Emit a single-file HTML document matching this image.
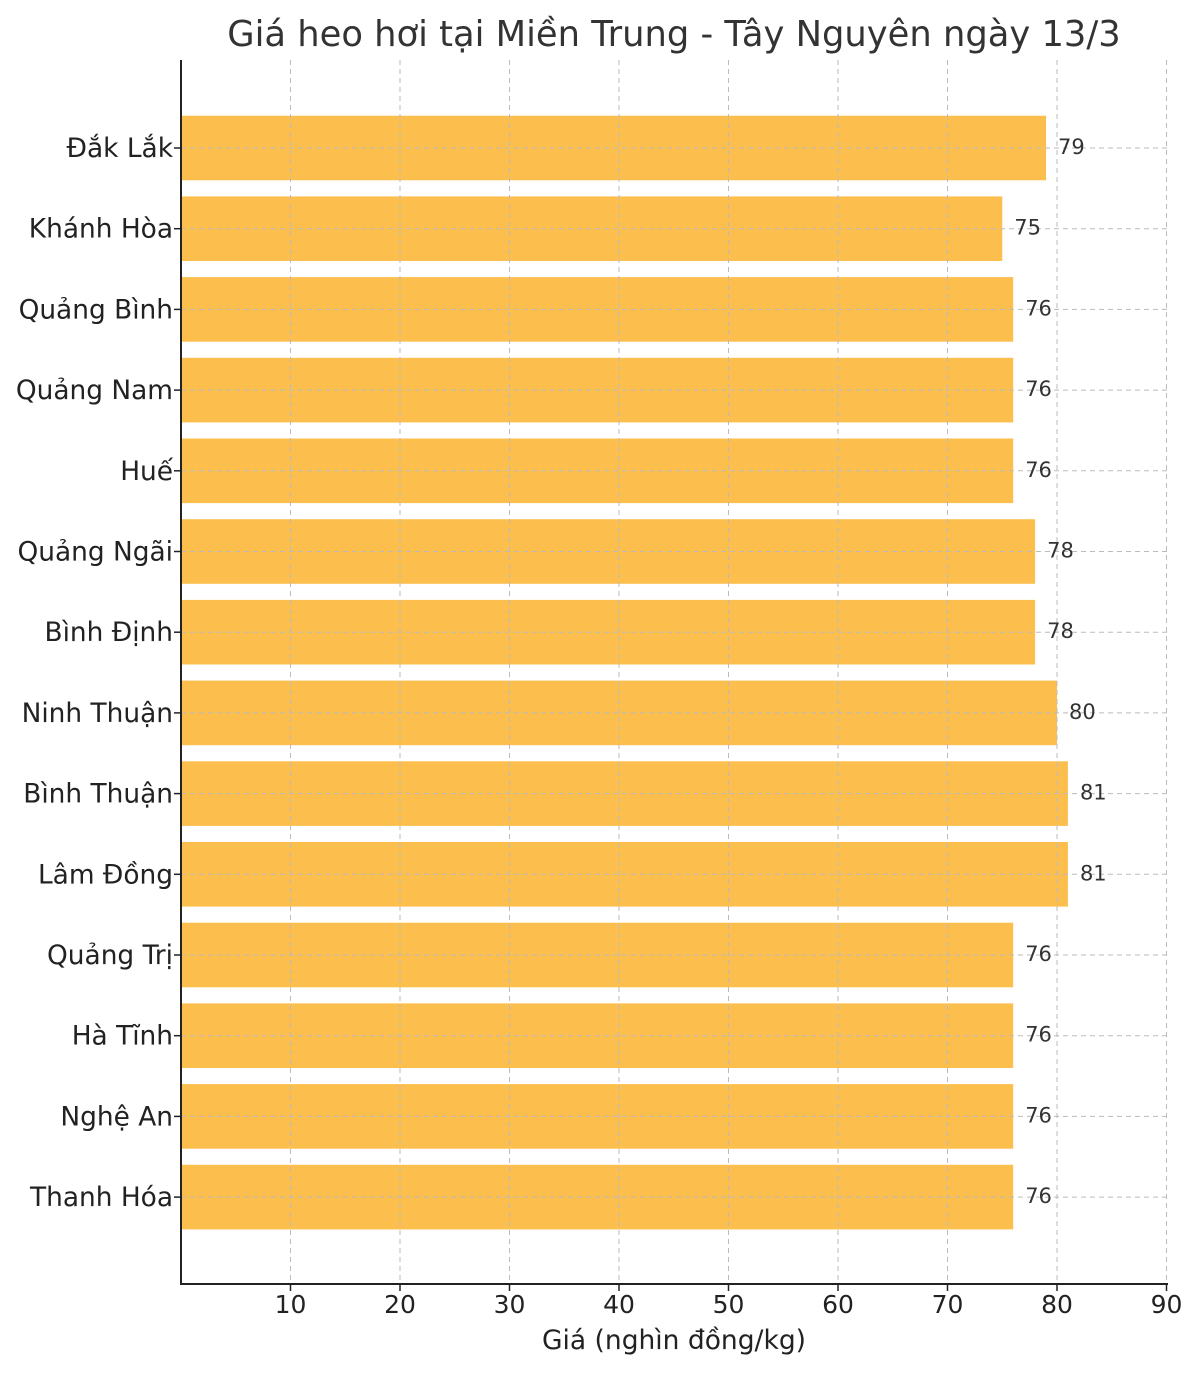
<!DOCTYPE html>
<html><head><meta charset="utf-8"><style>body{margin:0;background:#fff}</style></head><body>
<svg width="1200" height="1371" xmlns="http://www.w3.org/2000/svg" font-family="DejaVu Sans, Liberation Sans, sans-serif">
<rect width="1200" height="1371" fill="#fff"/>
<text x="674" y="46" font-size="35.3" fill="#333" text-anchor="middle">Giá heo hơi tại Miền Trung - Tây Nguyên ngày 13/3</text>
<g id="bars" fill="#FCBF4E"></g>
<g id="grid" stroke="#bbb" stroke-width="1" stroke-dasharray="5,4"></g>
<g id="labels"></g>
<line x1="181" y1="60" x2="181" y2="1285" stroke="#222" stroke-width="2"/>
<line x1="180" y1="1284" x2="1168" y2="1284" stroke="#222" stroke-width="2"/>
<g id="ticks"></g>
<text x="674" y="1349" font-size="26.5" fill="#222" text-anchor="middle">Giá (nghìn đồng/kg)</text>
<script>
const names=["Đắk Lắk","Khánh Hòa","Quảng Bình","Quảng Nam","Huế","Quảng Ngãi","Bình Định","Ninh Thuận","Bình Thuận","Lâm Đồng","Quảng Trị","Hà Tĩnh","Nghệ An","Thanh Hóa"];
const vals=[79,75,76,76,76,78,78,80,81,81,76,76,76,76];
const ns="http://www.w3.org/2000/svg";
function el(p,t,a,txt){const e=document.createElementNS(ns,t);for(const k in a)e.setAttribute(k,a[k]);if(txt!==undefined)e.textContent=txt;document.getElementById(p).appendChild(e);}
const X=v=>181+v*10.95;
for(let v=10;v<=90;v+=10){el("grid","line",{x1:X(v),y1:60,x2:X(v),y2:1284});
el("ticks","line",{x1:X(v),y1:1284,x2:X(v),y2:1291,stroke:"#222","stroke-width":1.5});
el("ticks","text",{x:X(v),y:1313,"font-size":25,fill:"#222","text-anchor":"middle"},v);}
names.forEach((n,i)=>{const y=148+i*80.7;
el("bars","rect",{x:181,y:y-32.3,width:X(vals[i])-181,height:64.6});
el("grid","line",{x1:181,y1:y,x2:1167,y2:y});
el("ticks","line",{x1:174,y1:y,x2:181,y2:y,stroke:"#222","stroke-width":1.5});
el("ticks","text",{x:173,y:y+9,"font-size":26.4,fill:"#222","text-anchor":"end"},n);
el("labels","text",{x:X(vals[i])+12,y:y+6,"font-size":21,fill:"#333"},vals[i]);});
</script>
</svg>
</body></html>
